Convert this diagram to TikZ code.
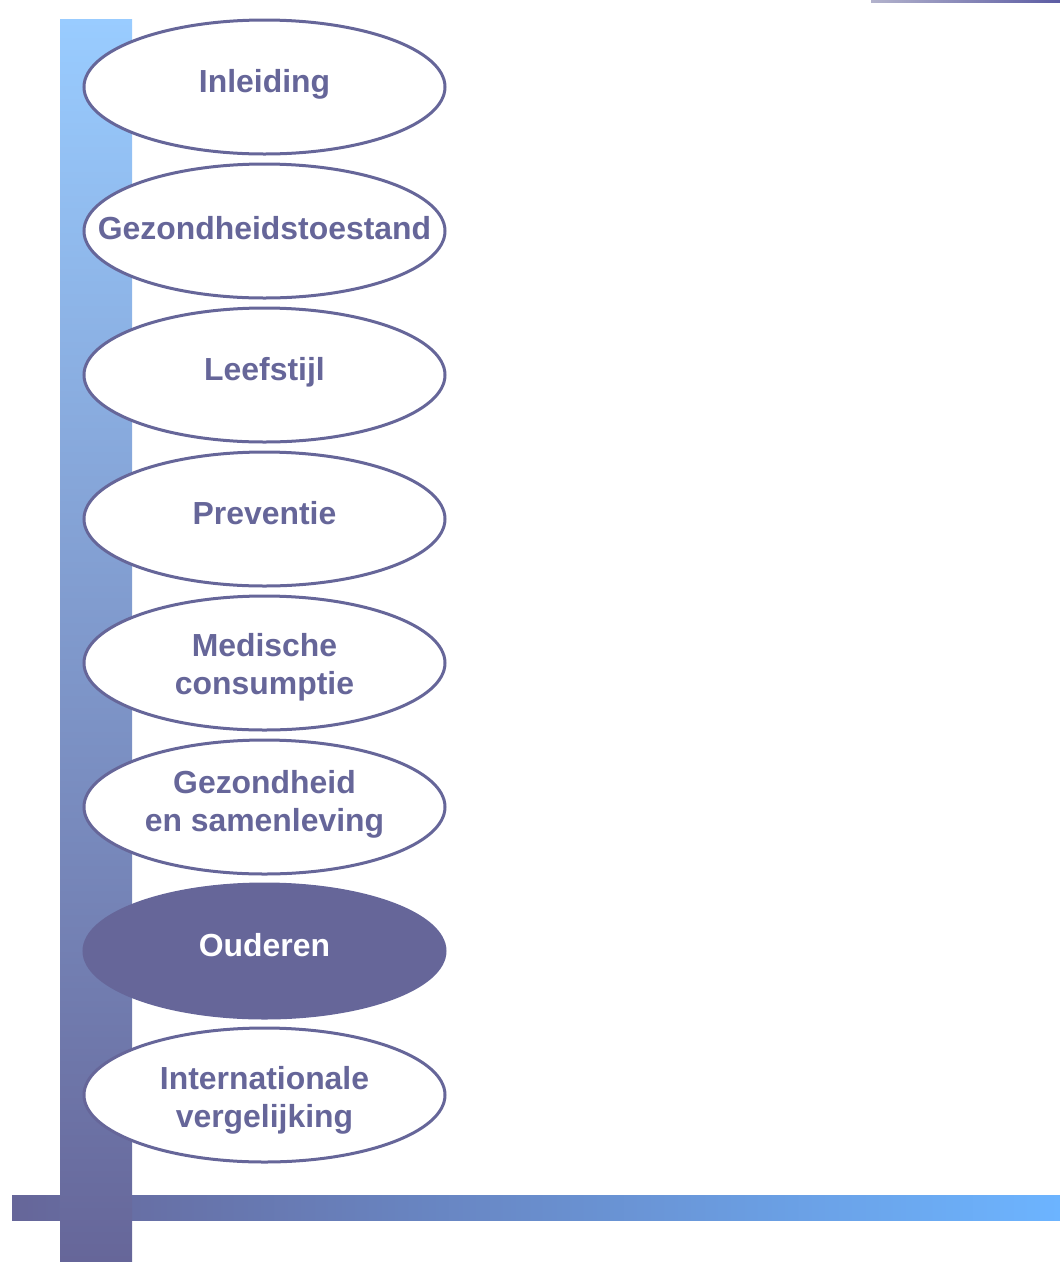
\documentclass[tikz,border=0pt]{standalone}
\usepackage{fontspec}
\setmainfont{Liberation Sans}
\usetikzlibrary{shapes.geometric}
\definecolor{pur}{HTML}{666699}
\definecolor{lblue}{HTML}{99CCFF}
\definecolor{rblue}{HTML}{6CB4FF}
\tikzset{
  ellbox/.style={ellipse, draw=pur, line width=3pt, fill=white, minimum width=361pt, minimum height=134pt, inner sep=0pt},
  ellsel/.style={ellbox, fill=pur},
  lbl/.style={font=\fontsize{31.9}{38}\selectfont\bfseries, text=pur, align=center, inner sep=0pt},
  lblsel/.style={lbl, text=white}
}
\begin{document}
\begin{tikzpicture}[x=1pt,y=-1pt]
\useasboundingbox (0,0) rectangle (1060,1262);
% top right thin line
\shade[left color=pur!50, right color=pur!90!blue] (871,0) rectangle (1060,2);
% bars
\shade[left color=pur, right color=rblue] (12,1195) rectangle (1060,1220);
\shade[top color=lblue, bottom color=pur] (60,19) rectangle (132,1262);
% ellipses
\foreach \n/\y in {1/87,2/231,3/375,4/519,5/663,6/807,8/1095}{
  \node[ellbox] (e\n) at (264.5,\y) {};
}
\node[ellsel] (e7) at (264.5,951) {};
\node[lbl, yshift=3pt] (t1) at (e1) {Inleiding};
\node[lbl, yshift=3pt] (t2) at (e2) {Gezondheidstoestand};
\node[lbl, yshift=3pt] (t3) at (e3) {Leefstijl};
\node[lbl, yshift=6pt] (t4) at (e4) {Preventie};
\node[lbl, yshift=-4pt] (t5) at (e5) {Medische\\consumptie};
\node[lbl, yshift=3pt] (t6) at (e6) {Gezondheid\\en samenleving};
\node[lblsel, yshift=6pt] (t7) at (e7) {Ouderen};
\node[lbl, yshift=-5pt] (t8) at (e8) {Internationale\\vergelijking};
\end{tikzpicture}
\end{document}
